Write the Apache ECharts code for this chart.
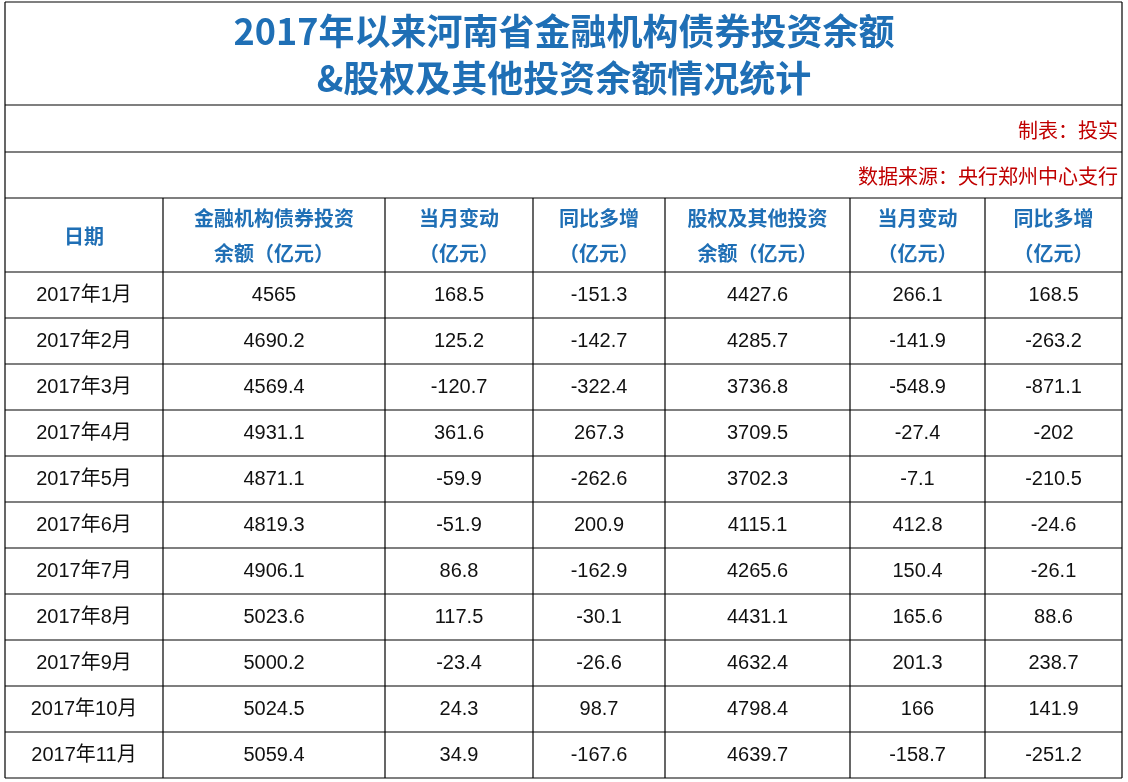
<!DOCTYPE html>
<html lang="zh">
<head>
  <meta charset="UTF-8">
  <title>河南省金融机构债券投资余额</title>
  <script src="https://cdn.jsdelivr.net/npm/echarts@6/dist/echarts.min.js"></script>
  <style>
    html, body { margin: 0; padding: 0; background: #fff; }
    #chart { width: 1128px; height: 782px; }
  </style>
</head>
<body>
  <div id="chart"></div>
  <script>
    // 数据
    const titleLines = ['2017年以来河南省金融机构债券投资余额', '&股权及其他投资余额情况统计']
    const maker = '制表：投实'
    const source = '数据来源：央行郑州中心支行'
    const headers = [
      ['日期'],
      ['金融机构债券投资', '余额（亿元）'],
      ['当月变动', '（亿元）'],
      ['同比多增', '（亿元）'],
      ['股权及其他投资', '余额（亿元）'],
      ['当月变动', '（亿元）'],
      ['同比多增', '（亿元）']
    ]
    const dates = ['2017年1月', '2017年2月', '2017年3月', '2017年4月', '2017年5月', '2017年6月',
      '2017年7月', '2017年8月', '2017年9月', '2017年10月', '2017年11月']
    const bondBalance = ['4565', '4690.2', '4569.4', '4931.1', '4871.1', '4819.3', '4906.1', '5023.6', '5000.2', '5024.5', '5059.4']
    const bondChange = ['168.5', '125.2', '-120.7', '361.6', '-59.9', '-51.9', '86.8', '117.5', '-23.4', '24.3', '34.9']
    const bondYoy = ['-151.3', '-142.7', '-322.4', '267.3', '-262.6', '200.9', '-162.9', '-30.1', '-26.6', '98.7', '-167.6']
    const equityBalance = ['4427.6', '4285.7', '3736.8', '3709.5', '3702.3', '4115.1', '4265.6', '4431.1', '4632.4', '4798.4', '4639.7']
    const equityChange = ['266.1', '-141.9', '-548.9', '-27.4', '-7.1', '412.8', '150.4', '165.6', '201.3', '166', '-158.7']
    const equityYoy = ['168.5', '-263.2', '-871.1', '-202', '-210.5', '-24.6', '-26.1', '88.6', '238.7', '141.9', '-251.2']

    const columns = [dates, bondBalance, bondChange, bondYoy, equityBalance, equityChange, equityYoy]

    // 布局
    const colX = [5, 163, 385, 533, 665, 850, 985, 1122]
    const tableTop = 2, titleBottom = 105, makerBottom = 152, sourceBottom = 198, headerBottom = 272
    const rowH = 46
    const font = '"Noto Sans CJK SC", sans-serif'
    const numFont = '"Liberation Sans", Arial, sans-serif'
    const blue = '#1F6FB5', red = '#C00000', line = '#000'

    let els = []
    const hline = (y) => els.push({ type: 'line', shape: { x1: colX[0], y1: y, x2: colX[7], y2: y }, style: { stroke: line, lineWidth: 1.2 } })
    const vline = (x, y1, y2) => els.push({ type: 'line', shape: { x1: x, y1: y1, x2: x, y2: y2 }, style: { stroke: line, lineWidth: 1.2 } })
    const text = (t, x, y, opt) => els.push({
      type: 'text', x: x, y: y,
      style: Object.assign({ text: t, font: '20px ' + numFont + ',' + font, fill: '#111', align: 'center', verticalAlign: 'middle' }, opt)
    })

    const bottom = headerBottom + rowH * dates.length
    ;[tableTop, titleBottom, makerBottom, sourceBottom, headerBottom].forEach(hline)
    for (let i = 1; i <= dates.length; i++) hline(headerBottom + rowH * i)
    vline(colX[0], tableTop, bottom)
    vline(colX[7], tableTop, bottom)
    for (let i = 1; i < 7; i++) vline(colX[i], sourceBottom, bottom)

    text(titleLines[0], 564, 31, { font: 'bold 36px ' + font, fill: blue })
    text(titleLines[1], 564, 78, { font: 'bold 36px ' + font, fill: blue })
    text(maker, 1118, 130, { font: '20px ' + font, fill: red, align: 'right' })
    text(source, 1118, 176, { font: '20px ' + font, fill: red, align: 'right' })

    headers.forEach((h, c) => {
      const x = (colX[c] + colX[c + 1]) / 2
      if (h.length === 1) text(h[0], x, 236, { font: 'bold 20px ' + font, fill: blue })
      else {
        text(h[0], x, 218, { font: 'bold 20px ' + font, fill: blue })
        text(h[1], x, 253, { font: 'bold 20px ' + font, fill: blue })
      }
    })

    columns.forEach((col, c) => {
      const x = (colX[c] + colX[c + 1]) / 2
      col.forEach((v, r) => text(v, x, headerBottom + rowH * r + rowH / 2))
    })

    const chart = echarts.init(document.getElementById('chart'))
    chart.setOption({ animation: false, graphic: { elements: els } })
  </script>
</body>
</html>
